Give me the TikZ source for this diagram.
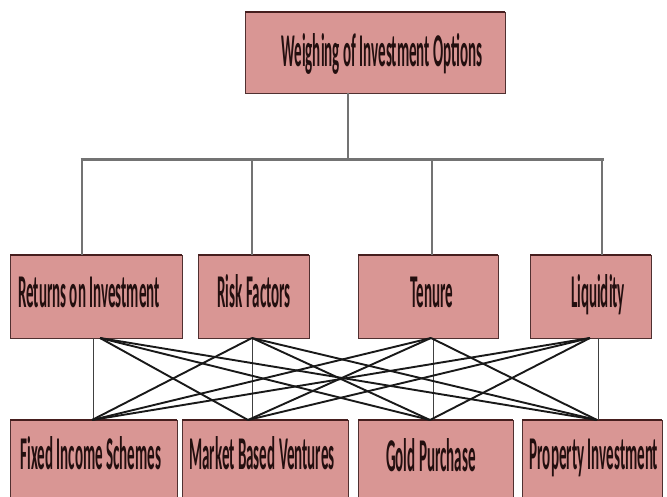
\documentclass[tikz,border=0pt]{standalone}
\usepackage{fontspec}
\newfontfamily\boxfont{Carlito}[FakeStretch=0.32]
\definecolor{boxfill}{RGB}{217,150,148}
\definecolor{boxedge}{RGB}{80,48,48}
\definecolor{topedge}{RGB}{70,30,30}
\definecolor{txtcol}{RGB}{35,15,15}
\definecolor{conn}{RGB}{115,115,115}
\tikzset{
  box/.style={draw=boxedge, line width=0.7pt, fill=boxfill, inner sep=0pt, outer sep=0pt},
  topline/.style={draw=topedge, line width=2.6pt},
  lbl/.style={inner sep=0pt, text=txtcol, font=\boxfont\bfseries\fontsize{47}{49}\selectfont},
  upconn/.style={draw=conn, line width=1.3pt},
  bar/.style={draw=conn, line width=3pt},
  thinv/.style={draw=black!75, line width=0.7pt},
  crossline/.style={draw=black!90, line width=1.9pt}
}
\begin{document}
\begin{tikzpicture}[x=1pt, y=-1pt]
\useasboundingbox (0,0) rectangle (667,497);
\fill[white] (0,0) rectangle (667,497);
% top
\node[box, minimum width=260pt, minimum height=81pt] (top) at (375,52.5) {};
\node[lbl, anchor=base] (topl) at (382,67) {Weighing of Investment Options};
% level 2
\node[box, minimum width=172pt, minimum height=83pt] (ret) at (96,296.5) {};
\node[box, minimum width=111pt, minimum height=83pt] (risk) at (253.5,296.5) {};
\node[box, minimum width=140pt, minimum height=83pt] (ten) at (428,296.5) {};
\node[box, minimum width=121pt, minimum height=83pt] (liq) at (590.5,296.5) {};
\node[lbl, anchor=base] (retl) at (89,307) {Returns on Investment};
\node[lbl, anchor=base] (riskl) at (254,307) {Risk Factors};
\node[lbl, anchor=base] (tenl) at (432,307) {Tenure};
\node[lbl, anchor=base] (liql) at (598,307) {Liquidity};
% level 3
\node[box, minimum width=167pt, minimum height=80pt] (fix) at (93.5,460) {};
\node[box, minimum width=166pt, minimum height=80pt] (mkt) at (265,460) {};
\node[box, minimum width=155pt, minimum height=80pt] (gold) at (435.5,460) {};
\node[box, minimum width=140pt, minimum height=80pt] (prop) at (592,460) {};
\node[lbl, anchor=base] (fixl) at (91,469) {Fixed Income Schemes};
\node[lbl, anchor=base] (mktl) at (262,469) {Market Based Ventures};
\node[lbl, anchor=base] (goldl) at (431,471) {Gold Purchase};
\node[lbl, anchor=base] (propl) at (594,469) {Property Investment};
% top borders
\foreach \n in {top,ret,risk,ten,liq,fix,mkt,gold,prop}
  \draw[topline] (\n.north west) -- (\n.north east);
% upper connectors
\coordinate (hub) at (348,160);
\coordinate (h1) at (82,160);
\coordinate (h2) at (252,160);
\coordinate (h3) at (432,160);
\coordinate (h4) at (602,160);
\draw[upconn] (hub |- top.south) -- (hub);
\draw[bar] ([xshift=-1.5pt]h1) -- ([xshift=1.5pt]h4);
\draw[upconn] (h1) -- (h1 |- ret.north);
\draw[upconn] (h2) -- (h2 |- risk.north);
\draw[upconn] (h3) -- (h3 |- ten.north);
\draw[upconn] (h4) -- (h4 |- liq.north);
% lower thin verticals
\coordinate (v1) at (93,0);
\coordinate (v2) at (252,0);
\coordinate (v3) at (433,0);
\coordinate (v4) at (598,0);
\draw[thinv] (v1 |- ret.south) -- (v1 |- fix.north);
\draw[thinv] (v2 |- risk.south) -- (v2 |- mkt.north);
\draw[thinv] (v3 |- ten.south) -- (v3 |- gold.north);
\draw[thinv] (v4 |- liq.south) -- (v4 |- prop.north);
% crossing connectors
\coordinate (t1) at (100,338);
\coordinate (t2) at (252,338);
\coordinate (t3) at (431,338);
\coordinate (t4) at (590,338);
\coordinate (b1) at (92,420);
\coordinate (b2) at (248,420);
\coordinate (b3) at (430,420);
\coordinate (b4) at (597,420);
\foreach \i/\j in {1/2,1/3,1/4,2/1,2/3,2/4,3/1,3/2,3/4,4/1,4/2,4/3}
  \draw[crossline] (t\i) -- (b\j);
\end{tikzpicture}
\end{document}
